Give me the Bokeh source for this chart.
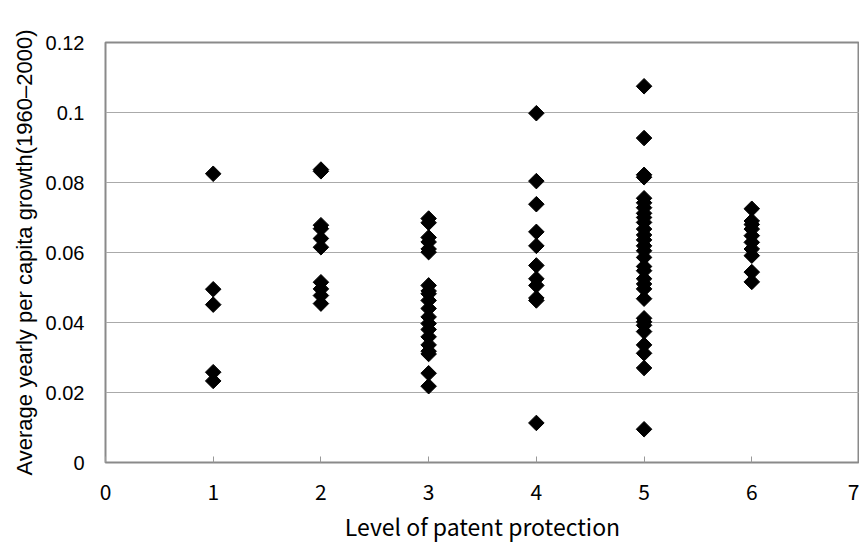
import math
from bokeh.plotting import figure
from bokeh.models import ColumnDataSource, FixedTicker, CustomJSTickFormatter, Range1d
from bokeh.embed import file_html
from bokeh.resources import INLINE

# Data: level of patent protection -> average yearly per capita growth
level1 = [0.0825, 0.0495, 0.0451, 0.0258, 0.0233]
level2 = [0.0837, 0.0832, 0.0678, 0.0668, 0.0640, 0.0615, 0.0515, 0.0496, 0.0477, 0.0454]
level3 = [0.0697, 0.0685, 0.0643, 0.0630, 0.0610, 0.0601, 0.0506, 0.0490, 0.0482, 0.0463,
          0.0440, 0.0416, 0.0397, 0.0380, 0.0359, 0.0336, 0.0318, 0.0310, 0.0255, 0.0218]
level4 = [0.0998, 0.0804, 0.0738, 0.0659, 0.0619, 0.0563, 0.0525, 0.0506, 0.0470, 0.0463, 0.0113]
level5 = [0.1075, 0.0927, 0.0822, 0.0815, 0.0755, 0.0742, 0.0728, 0.0712, 0.0700, 0.0686,
          0.0667, 0.0650, 0.0636, 0.0619, 0.0605, 0.0586, 0.0560, 0.0548, 0.0525, 0.0510,
          0.0496, 0.0468, 0.0412, 0.0402, 0.0392, 0.0374, 0.0336, 0.0312, 0.0270, 0.0095]
level6 = [0.0725, 0.0690, 0.0680, 0.0667, 0.0648, 0.0629, 0.0610, 0.0591, 0.0544, 0.0516]

levels = [1, 2, 3, 4, 5, 6]
series = [level1, level2, level3, level4, level5, level6]
x_ticks = [0, 1, 2, 3, 4, 5, 6, 7]
y_ticks = [0, 0.02, 0.04, 0.06, 0.08, 0.10, 0.12]

xs, ys = [], []
for lv, vals in zip(levels, series):
    for v in vals:
        xs.append(lv)
        ys.append(v)
src = ColumnDataSource(data=dict(x=xs, y=ys))

p = figure(width=859, height=545, output_backend="svg", toolbar_location=None,
           x_range=Range1d(0, 7), y_range=Range1d(0, 0.12),
           min_border_left=105, min_border_top=42, min_border_bottom=78, min_border_right=0)

p.scatter("x", "y", source=src, marker="square", angle=math.pi / 4, size=11,
          fill_color="black", line_color="black", line_width=1)

p.outline_line_color = "#8a8a8a"
p.outline_line_width = 2
p.background_fill_color = "white"
p.border_fill_color = "white"

p.xgrid.grid_line_color = None
p.ygrid.grid_line_color = "#aaaaaa"
p.ygrid.grid_line_width = 1

# X axis
p.xaxis.ticker = FixedTicker(ticks=x_ticks)
p.xaxis.axis_line_color = None
p.xaxis.major_tick_in = 6
p.xaxis.major_tick_out = 0
p.xaxis.major_tick_line_color = "#999999"
p.xaxis.minor_tick_line_color = None
p.xaxis.major_label_standoff = 21
p.xaxis.major_label_text_font = "Noto Sans CJK JP"
p.xaxis.major_label_text_font_size = "21px"
p.xaxis.major_label_text_color = "black"
p.xaxis.axis_label = "Level of patent protection"
p.xaxis.axis_label_text_font = "Noto Sans CJK JP"
p.xaxis.axis_label_text_font_size = "23px"
p.xaxis.axis_label_text_font_style = "normal"
p.xaxis.axis_label_text_color = "black"
p.xaxis.axis_label_standoff = 6

# Y axis
p.yaxis.ticker = FixedTicker(ticks=y_ticks)
p.yaxis.formatter = CustomJSTickFormatter(
    code="var s = tick.toFixed(2); s = s.replace(/0+$/, ''); s = s.replace(/\\.$/, ''); return s;")
p.yaxis.axis_line_color = None
p.yaxis.major_tick_in = 0
p.yaxis.major_tick_out = 0
p.yaxis.minor_tick_line_color = None
p.yaxis.major_label_standoff = 21
p.yaxis.major_label_text_font = "Liberation Sans"
p.yaxis.major_label_text_font_size = "20px"
p.yaxis.major_label_text_color = "black"
p.yaxis.axis_label = "Average yearly per capita growth(1960\u20132000)"
p.yaxis.axis_label_text_font = "Liberation Sans"
p.yaxis.axis_label_text_font_size = "22px"
p.yaxis.axis_label_text_font_style = "normal"
p.yaxis.axis_label_text_color = "black"
p.yaxis.axis_label_standoff = 6

open("out.html", "w").write(file_html(p, INLINE))
